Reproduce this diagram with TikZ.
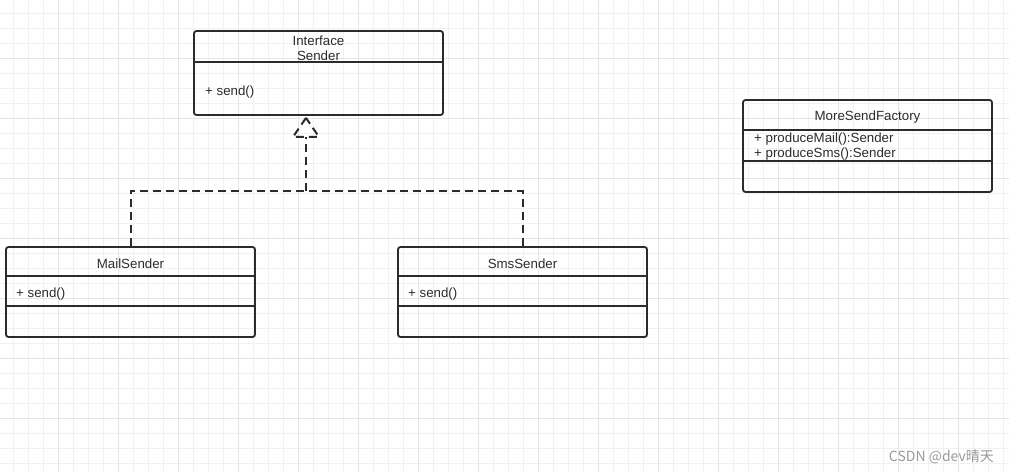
\documentclass[tikz,border=0pt]{standalone}
\usepackage{fontspec}
\setmainfont{Liberation Sans}
\newfontfamily\cjkfont{Noto Sans CJK SC}
\usetikzlibrary{positioning}

\definecolor{ink}{HTML}{2B2B2B}
\definecolor{gridminor}{HTML}{F1F1F1}
\definecolor{gridmajor}{HTML}{E4E4E4}
\definecolor{wmgray}{HTML}{9A9A9A}

\tikzset{
    classbox/.style={draw=ink, line width=1.8pt, rounded corners=2.5pt, inner sep=0pt, minimum width=249pt},
    classname/.style={font=\fontsize{13.3}{15}\selectfont, text=ink, align=center, inner sep=0pt},
    member/.style={font=\fontsize{13.3}{15}\selectfont, text=ink, anchor=west, align=left, inner sep=0pt},
    divider/.style={draw=ink, line width=1.8pt},
    realize/.style={draw=ink, line width=2pt, dash pattern=on 8pt off 5pt},
}

\begin{document}
\begin{tikzpicture}[x=1pt, y=-1pt]
            \useasboundingbox (0,0) rectangle (1009,472);

            % grid
            \foreach \x in {13.5,28.5,...,1008} \draw[gridminor, line width=1pt] (\x,0) -- (\x,472);
            \foreach \y in {13.5,28.5,...,471} \draw[gridminor, line width=1pt] (0,\y) -- (1009,\y);
            \foreach \x in {58.5,118.5,...,1008} \draw[gridmajor, line width=1pt] (\x,0) -- (\x,472);
            \foreach \y in {58.5,118.5,...,471} \draw[gridmajor, line width=1pt] (0,\y) -- (1009,\y);

            % interface
            \node[classbox, minimum height=84pt] (sender) at (318.5,73) {};
            \draw[divider] ([yshift=-32pt]sender.north west) -- ([yshift=-32pt]sender.north east);
            \node[classname] (sendertitle) at (318.5,48) {Interface\\Sender};
            \node[member] (sendersend) at (205,92.5) {+ send()};

            % implementations
            \node[classbox, minimum height=90pt] (mail) at (130.5,292) {};
            \draw[divider] ([yshift=-30pt]mail.north west) -- ([yshift=-30pt]mail.north east);
            \draw[divider] ([yshift=-60pt]mail.north west) -- ([yshift=-60pt]mail.north east);
            \node[classname] (mailtitle) at (130.5,263.5) {MailSender};
            \node[member] (mailsend) at (16,294) {+ send()};

            \node[classbox, minimum height=90pt] (sms) at (522.5,292) {};
            \draw[divider] ([yshift=-30pt]sms.north west) -- ([yshift=-30pt]sms.north east);
            \draw[divider] ([yshift=-60pt]sms.north west) -- ([yshift=-60pt]sms.north east);
            \node[classname] (smstitle) at (522.5,263.5) {SmsSender};
            \node[member] (smssend) at (408,294) {+ send()};

            % factory
            \node[classbox, minimum height=92pt] (factory) at (867.5,146) {};
            \draw[divider] ([yshift=-31pt]factory.north west) -- ([yshift=-31pt]factory.north east);
            \draw[divider] ([yshift=-62pt]factory.north west) -- ([yshift=-62pt]factory.north east);
            \node[classname] (factorytitle) at (867.5,117) {MoreSendFactory};
            \node[member] (factoryops) at (754,147) {+ produceMail():Sender\\+ produceSms():Sender};

            % realization
            \coordinate (join) at (306,191);
            \coordinate (tip) at ([xshift=-12.5pt, yshift=-2pt]sender.south);
            \draw[realize] (mail.north) |- (join) -| (sms.north);
            \draw[realize] (join) -- ++(0,-54);
            \draw[realize] (tip) -- ++(-13,19) -- ++(26,0) -- cycle;

            \node[font=\cjkfont\fontsize{14}{16}\selectfont, text=wmgray, anchor=east, inner sep=0pt] (watermark) at (994,457) {CSDN @dev晴天};
        \end{tikzpicture}
\end{document}
